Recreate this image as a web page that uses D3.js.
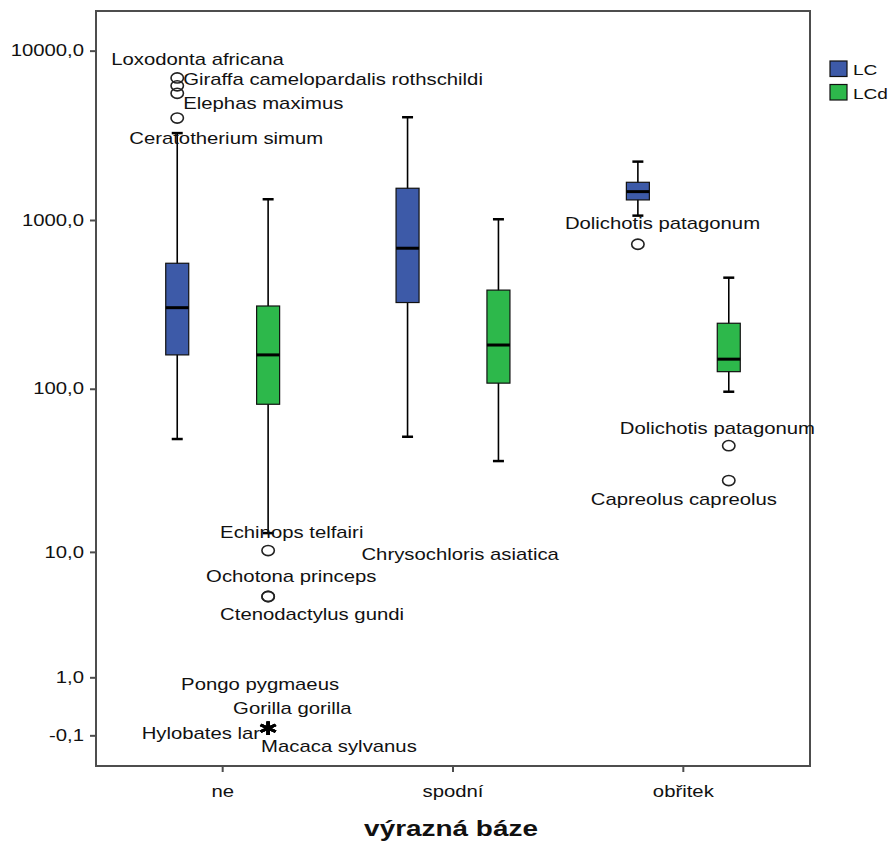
<!DOCTYPE html>
<html>
<head>
<meta charset="utf-8">
<script src="https://cdn.jsdelivr.net/npm/d3@7"></script>
<style>
    body { margin: 0; background: #fff; }
    svg { display: block; font-family: "Liberation Sans", Arial, sans-serif; }
</style>
</head>
<body>
<svg id="chart" width="889" height="844"></svg>
<script>
// Categories / series
var groups = ["ne", "spodní", "obřitek"];
var series = ["LC", "LCd"];

// Box statistics, one value per group
var lcLow    = [50, 51.6, 1061];
var lcQ1     = [159, 325, 1314];
var lcMedian = [303, 681, 1471];
var lcQ3     = [555, 1540, 1670];
var lcHigh   = [3260, 4045, 2212];

var lcdLow    = [13.2, 36.8, 96];
var lcdQ1     = [80.8, 108, 126.4];
var lcdMedian = [159, 182, 150];
var lcdQ3     = [310, 385, 245];
var lcdHigh   = [1326, 1010, 456];

// Outliers ("o"), extremes ("*") and a label with no marker ("")
var outlierNames  = ["Loxodonta africana", "Giraffa camelopardalis rothschildi", "Elephas maximus", "Ceratotherium simum",
                     "Echinops telfairi", "Ochotona princeps", "Ctenodactylus gundi", "Chrysochloris asiatica",
                     "Pongo pygmaeus", "Gorilla gorilla", "Hylobates lar", "Macaca sylvanus",
                     "Dolichotis patagonum", "Dolichotis patagonum", "Capreolus capreolus"];
var outlierGroups = ["ne", "ne", "ne", "ne", "ne", "ne", "ne", "spodní", "ne", "ne", "ne", "ne", "obřitek", "obřitek", "obřitek"];
var outlierSeries = ["LC", "LC", "LC", "LC", "LCd", "LCd", "LCd", "LCd", "LCd", "LCd", "LCd", "LCd", "LC", "LCd", "LCd"];
var outlierValues = [6900, 6200, 5600, 4000, 10.2, 5, 5, 10, 0, 0, 0, 0, 719, 45.6, 28];
var outlierKinds  = ["o", "o", "o", "o", "o", "o", "o", "", "*", "*", "*", "*", "o", "o", "o"];

// Y ticks
var yTicks = [-0.1, 1, 10, 100, 1000, 10000];

// label placement (layout only, px from the marker)
var labelDx     = [-66, 6, 6, -48, -48, -62, -48, -137, -87, -35, -8, -7, -73, -109, -138];
var labelDy     = [-13, -1, 16, 26, -13, -14, 24, 8, -38, -14, 11, 24, -15, -12, 24];
var labelAnchor = ["start", "start", "start", "start", "start", "start", "start", "start",
                   "start", "start", "end", "start", "start", "start", "start"];

var style = {
    left: 96, right: 810, top: 11, bottom: 766,
    stretch: 1.27,      // the picture is a bit wider than tall
    boxWidth: 23,
    capWidth: 11,
    colors: { LC: "#3d5aa8", LCd: "#2db84b" },
    frame: "#4d4d4d"
};

var svg = d3.select("#chart");

var x0 = d3.scaleBand()
    .domain(groups)
    .range([style.left, style.right])
    .paddingInner(0)
    .paddingOuter(0.05);

var x1 = d3.scaleBand()
    .domain(series)
    .range([0, x0.bandwidth()])
    .paddingInner(0)
    .paddingOuter(0.267);

// log(x+1) like axis
var y = d3.scaleSymlog()
    .constant(1)
    .domain([-0.669, 17140])
    .range([style.bottom, style.top]);

var locale = d3.formatLocale({ decimal: ",", thousands: "", grouping: [3], currency: ["", ""], minus: "-" });
var fmt = locale.format(".1f");

var cx = function(g, s) {
    return x0(g) + x1(s) + x1.bandwidth() / 2;
};

// stretched text helper
var label = function(layer, tx, ty, str, anchor, size, weight) {
    return layer.append("text")
        .attr("transform", "translate(" + tx + "," + ty + ") scale(" + style.stretch + ",1)")
        .attr("text-anchor", anchor)
        .attr("font-size", size)
        .attr("font-weight", weight || "normal")
        .attr("fill", "#111")
        .text(str);
};

// Axes
var yAxis = svg.append("g")
    .attr("transform", "translate(" + style.left + ",0)")
    .call(d3.axisLeft(y).tickValues(yTicks).tickFormat(fmt).tickSize(6).tickPadding(6));
yAxis.select(".domain").remove();
yAxis.selectAll("line").attr("stroke", style.frame).attr("stroke-width", 2);
yAxis.selectAll("text")
    .attr("font-size", 16)
    .attr("fill", "#111")
    .attr("font-family", "Liberation Sans, Arial, sans-serif")
    .attr("x", -12 / style.stretch)
    .attr("transform", "scale(" + style.stretch + ",1)");

var xAxis = svg.append("g")
    .attr("transform", "translate(0," + style.bottom + ")")
    .call(d3.axisBottom(x0).tickSize(6).tickPadding(12));
xAxis.select(".domain").remove();
xAxis.selectAll("line").attr("stroke", style.frame).attr("stroke-width", 2);
xAxis.selectAll(".tick text").remove();
groups.forEach(function(g) {
    label(svg, x0(g) + x0.bandwidth() / 2, 797, g, "middle", 16);
});

label(svg, (style.left + style.right) / 2 - 2, 836, "výrazná báze", "middle", 22, "bold");

// Frame
svg.append("rect")
    .attr("x", style.left)
    .attr("y", style.top)
    .attr("width", style.right - style.left)
    .attr("height", style.bottom - style.top)
    .attr("fill", "none")
    .attr("stroke", style.frame)
    .attr("stroke-width", 2);

// Boxes
var boxes = [];
groups.forEach(function(g, i) {
    boxes.push({ group: g, series: "LC", low: lcLow[i], q1: lcQ1[i], med: lcMedian[i], q3: lcQ3[i], high: lcHigh[i] });
    boxes.push({ group: g, series: "LCd", low: lcdLow[i], q1: lcdQ1[i], med: lcdMedian[i], q3: lcdQ3[i], high: lcdHigh[i] });
});

var box = svg.append("g").selectAll("g")
    .data(boxes)
    .enter()
    .append("g");

box.append("line")
    .attr("x1", function(d) { return cx(d.group, d.series); })
    .attr("x2", function(d) { return cx(d.group, d.series); })
    .attr("y1", function(d) { return y(d.low); })
    .attr("y2", function(d) { return y(d.high); })
    .attr("stroke", "#000")
    .attr("stroke-width", 1.6);

["low", "high"].forEach(function(k) {
    box.append("line")
        .attr("x1", function(d) { return cx(d.group, d.series) - style.capWidth / 2; })
        .attr("x2", function(d) { return cx(d.group, d.series) + style.capWidth / 2; })
        .attr("y1", function(d) { return y(d[k]); })
        .attr("y2", function(d) { return y(d[k]); })
        .attr("stroke", "#000")
        .attr("stroke-width", 2.5);
});

box.append("rect")
    .attr("x", function(d) { return cx(d.group, d.series) - style.boxWidth / 2; })
    .attr("y", function(d) { return y(d.q3); })
    .attr("width", style.boxWidth)
    .attr("height", function(d) { return y(d.q1) - y(d.q3); })
    .attr("fill", function(d) { return style.colors[d.series]; })
    .attr("stroke", "#111")
    .attr("stroke-width", 1.2);

box.append("line")
    .attr("x1", function(d) { return cx(d.group, d.series) - style.boxWidth / 2; })
    .attr("x2", function(d) { return cx(d.group, d.series) + style.boxWidth / 2; })
    .attr("y1", function(d) { return y(d.med); })
    .attr("y2", function(d) { return y(d.med); })
    .attr("stroke", "#000")
    .attr("stroke-width", 3);

// Outliers and their labels
var points = outlierNames.map(function(n, i) {
    return { name: n, group: outlierGroups[i], series: outlierSeries[i], value: outlierValues[i], kind: outlierKinds[i], i: i };
});

var pts = svg.append("g");
pts.selectAll("ellipse")
    .data(points.filter(function(d) { return d.kind === "o"; }))
    .enter()
    .append("ellipse")
    .attr("cx", function(d) { return cx(d.group, d.series); })
    .attr("cy", function(d) { return y(d.value); })
    .attr("rx", 6.2)
    .attr("ry", 5.1)
    .attr("fill", "none")
    .attr("stroke", "#222")
    .attr("stroke-width", 1.6);

var star = d3.symbol().type(d3.symbolAsterisk || d3.symbolStar).size(130);
pts.selectAll("path.extreme")
    .data(points.filter(function(d) { return d.kind === "*"; }))
    .enter()
    .append("path")
    .attr("class", "extreme")
    .attr("d", star)
    .attr("transform", function(d) {
        return "translate(" + cx(d.group, d.series) + "," + y(d.value) + ") scale(" + style.stretch + ",1)";
    })
    .attr("fill", "#000")
    .attr("stroke", "#000")
    .attr("stroke-width", 2.6);

points.forEach(function(d) {
    label(svg, cx(d.group, d.series) + labelDx[d.i], y(d.value) + labelDy[d.i], d.name, labelAnchor[d.i], 16);
});

// Legend
var legend = svg.append("g").selectAll("g")
    .data(series)
    .enter()
    .append("g");

legend.append("rect")
    .attr("x", 830)
    .attr("y", function(d, i) { return 61 + i * 23.5; })
    .attr("width", 17)
    .attr("height", 15.5)
    .attr("fill", function(d) { return style.colors[d]; })
    .attr("stroke", "#111")
    .attr("stroke-width", 1.2);

legend.each(function(d, i) {
    label(d3.select(this), 853, 75 + i * 23.5, d, "start", 15);
});
</script>
</body>
</html>
